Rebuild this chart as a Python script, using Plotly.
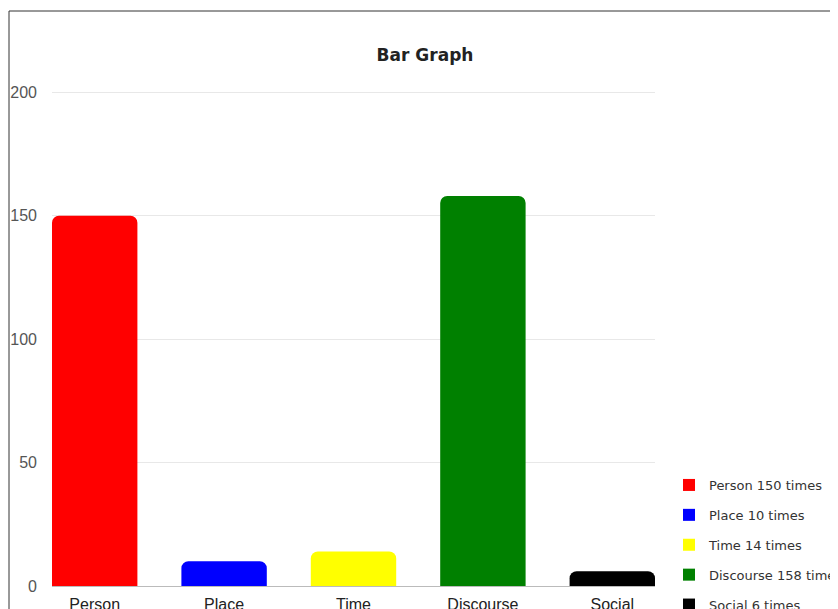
import plotly.graph_objects as go

categories = ["Person", "Place", "Time", "Discourse", "Social"]
values = [150, 10, 14, 158, 6]
colors = ["#ff0000", "#0000ff", "#ffff00", "#008000", "#000000"]
legend_names = ["Person 150 times", "Place 10 times", "Time 14 times",
                "Discourse 158 times", "Social 6 times"]
y_ticks = [0, 50, 100, 150, 200]

fig = go.Figure()
for i, cat in enumerate(categories):
    fig.add_trace(go.Bar(
        x=[cat], y=[values[i]], name=legend_names[i], showlegend=False,
        marker=dict(color=colors[i], cornerradius=7, line=dict(width=0)),
        offsetgroup="a", width=0.66,
    ))
# legend entries (square swatches)
for i, cat in enumerate(categories):
    fig.add_trace(go.Scatter(
        x=[None], y=[None], mode="markers", name=legend_names[i],
        marker=dict(color=colors[i], symbol="square", size=12),
        legendgroup=cat,
    ))

# page body has an 8px margin: lay out in page pixels shifted by 8
OFF = 8
W, H = 838 - OFF, 609 - OFF
L, R, T, B = 52 - OFF, 655 - OFF, 85 - OFF, 586 - OFF

fig.update_layout(
    width=W, height=H,
    margin=dict(l=L, r=W - R, t=T, b=H - B, autoexpand=False),
    paper_bgcolor="white", plot_bgcolor="white",
    title=dict(text="<b>Bar Graph</b>", x=(425 - OFF) / W, xanchor="center",
               y=1 - (55 - OFF) / H, yanchor="middle",
               font=dict(family="DejaVu Sans", size=17, color="#222")),
    showlegend=True,
    legend=dict(x=(669 - L - OFF) / (R - L), xanchor="left",
                y=1 - (470 - OFF - T) / (B - T), yanchor="top",
                font=dict(family="DejaVu Sans", size=13, color="#333"),
                tracegroupgap=10, bgcolor="rgba(0,0,0,0)"),
    bargap=0.34,
    xaxis=dict(range=[-0.33, 4.33], showgrid=False, showline=True, linecolor="#bbbbbb",
               linewidth=1, ticks="", ticklabelstandoff=4,
               tickfont=dict(family="Liberation Sans", size=16, color="#222"),
               fixedrange=True),
    yaxis=dict(range=[0, 203], tickvals=y_ticks, showgrid=True, gridcolor="#e8e8e8",
               zeroline=False, ticks="", ticklabelstandoff=14,
               tickfont=dict(family="Liberation Sans", size=16, color="#555"), fixedrange=True),
    shapes=[dict(type="rect", xref="paper", yref="paper",
                 x0=(9 - OFF - L) / (R - L), x1=(W + 20 - L) / (R - L),
                 y0=-(H + 20 - B) / (B - T), y1=1 + (T - (11 - OFF)) / (B - T),
                 line=dict(color="#333", width=1), fillcolor="rgba(0,0,0,0)", layer="below")],
)

fig.write_html("out.html")
